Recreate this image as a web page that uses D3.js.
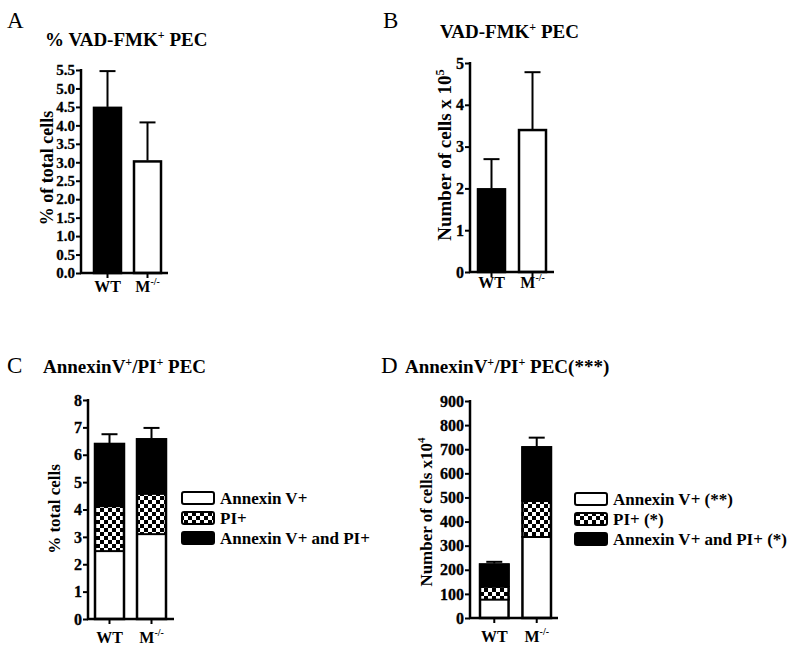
<!DOCTYPE html>
<html>
<head>
<meta charset="utf-8">
<script src="https://cdn.jsdelivr.net/npm/d3@7/dist/d3.min.js"></script>
<style>
  body { margin: 0; background: #fff; }
  svg { display: block; }
  text { font-family: "Liberation Serif", "DejaVu Serif", serif; fill: #000; }
</style>
</head>
<body>
<svg id="chart" width="800" height="648"></svg>
<script>
// ---------------- DATA ----------------
const groups = ["WT", "M"];

// Panel A: % VAD-FMK+ PEC (% of total cells)
const aValues = [4.5, 3.05];
const aSem = [0.97, 1.03];
const aTicks = [0, 0.5, 1, 1.5, 2, 2.5, 3, 3.5, 4, 4.5, 5, 5.5];

// Panel B: VAD-FMK+ PEC (number of cells x 10^5)
const bValues = [2.0, 3.42];
const bSem = [0.70, 1.36];
const bTicks = [0, 1, 2, 3, 4, 5];

// Panel C: AnnexinV+/PI+ PEC (% total cells), stacked
const cAnnexin = [2.48, 3.10];
const cPI = [1.64, 1.47];
const cBoth = [2.31, 2.03];
const cSem = [0.32, 0.38];
const cTicks = [0, 1, 2, 3, 4, 5, 6, 7, 8];
const cLegend = ["Annexin V+", "PI+", "Annexin V+ and PI+"];

// Panel D: AnnexinV+/PI+ PEC(***) (number of cells x10^4), stacked
const dAnnexin = [76, 336];
const dPI = [53, 149];
const dBoth = [97, 227];
const dSem = [7, 36];
const dTicks = [0, 100, 200, 300, 400, 500, 600, 700, 800, 900];
const dLegend = ["Annexin V+ (**)", "PI+ (*)", "Annexin V+ and PI+ (*)"];

// ---------------- DRAWING ----------------
const svg = d3.select("#chart");

const defs = svg.append("defs");
const pat = defs.append("pattern")
  .attr("id", "checker").attr("patternUnits", "userSpaceOnUse")
  .attr("width", 8).attr("height", 8);
pat.append("rect").attr("width", 8).attr("height", 8).attr("fill", "#fff");
pat.append("rect").attr("width", 4).attr("height", 4).attr("fill", "#000");
pat.append("rect").attr("x", 4).attr("y", 4).attr("width", 4).attr("height", 4).attr("fill", "#000");

const fills = ["#fff", "url(#checker)", "#000"];

function richText(t, parts, supSize, shift) {
  let pending = 0;
  parts.forEach(([s, sup]) => {
    const sp = t.append("tspan").text(s);
    if (sup) {
      sp.attr("font-size", supSize).attr("dy", -shift + pending);
      pending = shift;
    } else {
      if (pending) sp.attr("dy", pending);
      pending = 0;
    }
  });
}

function xLabel(g, x, yBase, name, size) {
  const t = g.append("text").attr("x", x).attr("y", yBase)
    .attr("text-anchor", "middle").attr("font-weight", "bold").attr("font-size", size);
  if (name === "M") {
    t.append("tspan").text("M");
    t.append("tspan").attr("font-size", size * 0.62).attr("dy", -size * 0.42).text("-/-");
  } else {
    t.text(name);
  }
}

function panel(cfg) {
  const g = svg.append("g");
  const y = d3.scaleLinear().domain([0, cfg.max]).range([cfg.y0, cfg.y1]);
  const x = d3.scaleBand().domain(groups).range(cfg.barRange).paddingInner(cfg.pad).paddingOuter(0);

  const stacks = cfg.stacks;
  groups.forEach((grp, i) => {
    let base = 0;
    const parts = stacks.map(s => s[i]);
    parts.forEach((v, k) => {
      g.append("rect")
        .attr("x", x(grp))
        .attr("y", y(base + v))
        .attr("width", x.bandwidth())
        .attr("height", y(base) - y(base + v))
        .attr("fill", cfg.fills ? cfg.fills[k] : cfg.barFill[i])
        .attr("stroke", "none");
      base += v;
    });
    g.append("rect")
      .attr("x", x(grp) + 1)
      .attr("y", y(base) + 1)
      .attr("width", x.bandwidth() - 2)
      .attr("height", y(0) - y(base) - 1)
      .attr("fill", "none")
      .attr("stroke", "#000").attr("stroke-width", 2.5);
    if (stacks.length > 1) {
      let b2 = 0;
      parts.slice(0, -1).forEach(v => {
        b2 += v;
        g.append("line")
          .attr("x1", x(grp)).attr("x2", x(grp) + x.bandwidth())
          .attr("y1", y(b2)).attr("y2", y(b2))
          .attr("stroke", "#000").attr("stroke-width", 2);
      });
    }
    const cx = x(grp) + x.bandwidth() / 2;
    const top = base + cfg.sem[i];
    g.append("line").attr("x1", cx).attr("x2", cx)
      .attr("y1", y(base)).attr("y2", y(top))
      .attr("stroke", "#000").attr("stroke-width", 2);
    g.append("line").attr("x1", cx - cfg.cap).attr("x2", cx + cfg.cap)
      .attr("y1", y(top)).attr("y2", y(top))
      .attr("stroke", "#000").attr("stroke-width", 2);
  });

  const ax = g.append("g").attr("transform", `translate(${cfg.axisX},0)`)
    .call(d3.axisLeft(y).tickValues(cfg.ticks).tickFormat(cfg.fmt).tickSize(5).tickPadding(1));
  ax.select(".domain").remove();
  ax.selectAll(".tick line").attr("stroke", "#000").attr("stroke-width", 2);
  ax.selectAll(".tick text").attr("font-family", "Liberation Serif")
    .attr("font-weight", "bold").attr("font-size", cfg.tickSize).attr("fill", "#000")
    .attr("stroke", "#000").attr("stroke-width", 0.3);
  g.append("line").attr("x1", cfg.axisX).attr("x2", cfg.axisX)
    .attr("y1", cfg.y0 + 1).attr("y2", y(cfg.max) - 1)
    .attr("stroke", "#000").attr("stroke-width", 2.5);
  g.append("line").attr("x1", cfg.axisX - 1).attr("x2", cfg.xEnd)
    .attr("y1", cfg.y0).attr("y2", cfg.y0)
    .attr("stroke", "#000").attr("stroke-width", 2.5);
  groups.forEach(grp => {
    const cx = x(grp) + x.bandwidth() / 2;
    g.append("line").attr("x1", cx).attr("x2", cx).attr("y1", cfg.y0).attr("y2", cfg.y0 + 5)
      .attr("stroke", "#000").attr("stroke-width", 2);
    xLabel(g, cx, cfg.xLabelY, grp, 16);
  });

  const yl = g.append("text")
    .attr("transform", `translate(${cfg.yLabelX},${cfg.yLabelY}) rotate(-90)`)
    .attr("text-anchor", "middle").attr("font-weight", "bold").attr("font-size", cfg.yLabelSize);
  yl.append("tspan").text(cfg.yLabel);
  if (cfg.yLabelSup) {
    yl.append("tspan").attr("font-size", cfg.yLabelSize * 0.65).attr("dy", -7).text(cfg.yLabelSup);
  }

  g.append("text").attr("x", cfg.letterX).attr("y", cfg.letterY)
    .attr("font-size", 23).text(cfg.letter);

  const tt = g.append("text").attr("x", cfg.titleX).attr("y", cfg.titleY)
    .attr("font-weight", "bold").attr("font-size", 19);
  richText(tt, cfg.title, 12, 7);

  if (cfg.legend) {
    cfg.legend.forEach((lab, k) => {
      const ly = cfg.legY + k * cfg.legStep;
      g.append("rect").attr("x", cfg.legX + 1).attr("y", ly + 1)
        .attr("width", cfg.legW - 2).attr("height", cfg.legH - 2)
        .attr("rx", 2)
        .attr("fill", fills[k]).attr("stroke", "#000").attr("stroke-width", 2);
      g.append("text").attr("x", cfg.legX + cfg.legW + 5).attr("y", ly + cfg.legH - 1)
        .attr("font-weight", "bold").attr("font-size", 17).text(lab);
    });
  }
}

panel({
  letter: "A", letterX: 7, letterY: 28,
  title: [["% VAD-FMK"], ["+", true], [" PEC"]], titleX: 45, titleY: 46,
  max: 5.5, y0: 273, y1: 70, axisX: 81, xEnd: 168,
  barRange: [93, 162], pad: 0.275,
  stacks: [aValues], sem: aSem, barFill: ["#000", "#fff"], cap: 8,
  ticks: aTicks, fmt: d3.format(".1f"), tickSize: 15,
  yLabel: "% of total cells", yLabelSize: 18, yLabelX: 53, yLabelY: 168,
  xLabelY: 292
});

panel({
  letter: "B", letterX: 383, letterY: 28,
  title: [["VAD-FMK"], ["+", true], [" PEC"]], titleX: 440, titleY: 38,
  max: 5, y0: 272, y1: 63, axisX: 470, xEnd: 554,
  barRange: [477, 547], pad: 0.293,
  stacks: [bValues], sem: bSem, barFill: ["#000", "#fff"], cap: 8,
  ticks: bTicks, fmt: d3.format("d"), tickSize: 16,
  yLabel: "Number of cells x 10", yLabelSup: "5", yLabelSize: 19, yLabelX: 451, yLabelY: 155,
  xLabelY: 288
});

panel({
  letter: "C", letterX: 7, letterY: 373,
  title: [["AnnexinV"], ["+", true], ["/PI"], ["+", true], [" PEC"]], titleX: 43, titleY: 373,
  max: 8, y0: 619, y1: 400, axisX: 88, xEnd: 174,
  barRange: [94, 167], pad: 0.262,
  stacks: [cAnnexin, cPI, cBoth], sem: cSem, fills: fills, cap: 8,
  ticks: cTicks, fmt: d3.format("d"), tickSize: 16,
  yLabel: "% total cells", yLabelSize: 17, yLabelX: 60, yLabelY: 509,
  xLabelY: 643,
  legend: cLegend, legX: 181, legY: 491, legStep: 20, legW: 34, legH: 14
});

panel({
  letter: "D", letterX: 381, letterY: 373,
  title: [["AnnexinV"], ["+", true], ["/PI"], ["+", true], [" PEC(***)"]], titleX: 405, titleY: 373,
  max: 900, y0: 618, y1: 401, axisX: 470, xEnd: 558,
  barRange: [479, 552], pad: 0.28,
  stacks: [dAnnexin, dPI, dBoth], sem: dSem, fills: fills, cap: 8,
  ticks: dTicks, fmt: d3.format("d"), tickSize: 16,
  yLabel: "Number of cells x10", yLabelSup: "4", yLabelSize: 17, yLabelX: 432, yLabelY: 512,
  xLabelY: 642,
  legend: dLegend, legX: 574, legY: 492, legStep: 20, legW: 34, legH: 14
});
</script>
</body>
</html>
